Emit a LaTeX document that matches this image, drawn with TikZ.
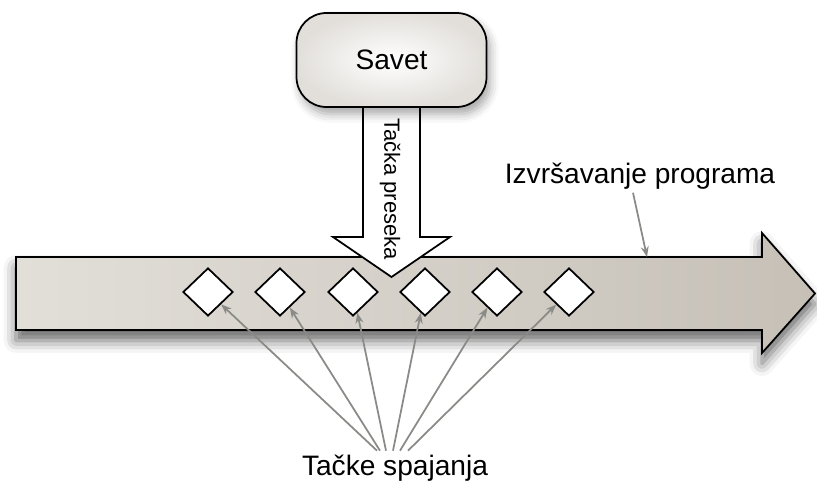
\documentclass[tikz,border=0pt]{standalone}
\usepackage{fontspec}
\setmainfont{Liberation Sans}
\usepackage{tikz}
\usetikzlibrary{
  arrows.meta,
  positioning,
  shapes.geometric,
  shadows.blur
}
\definecolor{flowleft}{HTML}{E2DFD9}
\definecolor{flowmid}{HTML}{F8F7F4}
\definecolor{flowright}{HTML}{C6C0B7}
\definecolor{pointergray}{HTML}{8A8A86}
\tikzset{
  >=stealth,
  line join=miter,
  flow/.style={draw=black, line width=1pt,
    left color=flowleft, middle color=flowmid, right color=flowright,
    blur shadow={shadow xshift=0pt, shadow yshift=-6pt, shadow blur radius=7pt, shadow opacity=60}},
  drop/.style={draw=black, line width=1pt, fill=white},
  advice/.style={draw=black, line width=1pt, rounded corners=0.6cm,
    minimum width=3.8cm, minimum height=1.88cm,
    inner color=white, outer color=flowright!50,
    blur shadow={shadow xshift=2pt, shadow yshift=-4pt, shadow blur radius=5pt, shadow opacity=35},
    font=\fontsize{16}{19}\selectfont},
  joinpt/.style={diamond, draw=black, line width=1pt, fill=white, inner sep=0pt,
    minimum width=1cm, minimum height=0.96cm},
  caption/.style={font=\fontsize{16}{19}\selectfont, inner sep=2pt},
  pointer/.style={-{Stealth[length=6pt,width=4.5pt]}, draw=pointergray, line width=1pt}
}
\begin{document}
\begin{tikzpicture}
  \useasboundingbox (0,0) rectangle (16.34,9.66);
  \def\xl{0.32}
  \def\yt{4.52}
  \def\yb{3.06}
  \def\xh{15.24}
  \def\yht{5.0}
  \def\yhb{2.6}
  \def\xtip{16.3}
  \def\ym{3.79}
  \def\dx{7.83}

  \draw[flow] (\xl,\yb) -- (\xl,\yt) -- (\xh,\yt) -- (\xh,\yht) -- (\xtip,\ym)
    -- (\xh,\yhb) -- (\xh,\yb) -- cycle;
  \coordinate (mtop) at (12.94,\yt);

  \draw[drop] (\dx-0.57,7.52) -- (\dx-0.57,4.92) -- (\dx-1.17,4.92) -- (\dx,4.12)
    -- (\dx+1.17,4.92) -- (\dx+0.57,4.92) -- (\dx+0.57,7.52) -- cycle;
  \node[advice] (savet) at (\dx,8.46) {Savet};
  \node[rotate=-90, font=\fontsize{12.5}{15}\selectfont] (presek) at (7.80,5.88) {Tačka preseka};

  \node[joinpt] (j1) at (4.16,3.82) {};
  \node[joinpt] (j2) at (5.60,3.82) {};
  \node[joinpt] (j3) at (7.06,3.82) {};
  \node[joinpt] (j4) at (8.50,3.82) {};
  \node[joinpt] (j5) at (9.94,3.82) {};
  \node[joinpt] (j6) at (11.38,3.82) {};

  \node[caption, anchor=base] (izv) at (12.8,6.0) {Izvršavanje programa};
  \node[caption, anchor=base] (tacke) at (7.9,0.16) {Tačke spajanja};

  \draw[pointer] ([xshift=-0.14cm]izv.south) -- (mtop);
  \draw[pointer] ([xshift=-0.36cm]tacke.north) -- (j1);
  \draw[pointer] ([xshift=-0.30cm]tacke.north) -- (j2);
  \draw[pointer] ([xshift=-0.18cm]tacke.north) -- (j3);
  \draw[pointer] ([xshift=-0.04cm]tacke.north) -- (j4);
  \draw[pointer] ([xshift=0.10cm]tacke.north) -- (j5);
  \draw[pointer] ([xshift=0.26cm]tacke.north) -- (j6);
\end{tikzpicture}
\end{document}
